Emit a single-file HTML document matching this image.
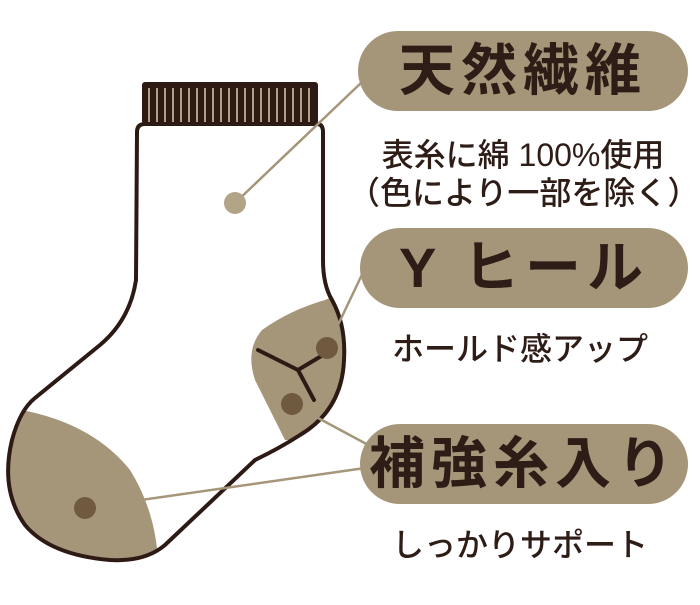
<!DOCTYPE html>
<html><head><meta charset="utf-8"><style>
body{margin:0;background:#fff;width:700px;height:605px;overflow:hidden;position:relative;font-family:"Liberation Sans","Noto Sans CJK JP",sans-serif;color:#2e1c16}
.pill{position:absolute;background:#a5967a;border-radius:42px;height:80px;font-weight:bold;font-size:56px;line-height:80px;text-align:center;letter-spacing:6px;white-space:nowrap}
.t{position:absolute;font-size:32px;font-weight:500;white-space:nowrap;text-align:center}
</style></head><body>
<svg width="700" height="605" style="position:absolute;left:0;top:0">
<defs><clipPath id="s"><path d="M145,124 L317,124 Q323,124 323,132 L323,260 Q323,285 332,300 Q346,325 344,360 Q342,410 300,435 Q280,448 255,460 L165,545 Q145,562 110,560 Q50,555 25,525 Q0,490 12,440 Q20,410 35,398 L100,345 Q130,320 136,280 L137,132 Q137,124 145,124 Z"/></clipPath></defs>
<g clip-path="url(#s)">
<path d="M325,300 Q290,310 262,330 Q245,350 255,380 L285,440 L350,440 L350,290 Z" fill="#a5967a"/>
<path d="M10,408 Q90,420 130,470 Q155,510 158,560 L0,560 Z" fill="#a5967a"/>
</g>
<path d="M145,124 L317,124 Q323,124 323,132 L323,260 Q323,285 332,300 Q346,325 344,360 Q342,410 300,435 Q280,448 255,460 L165,545 Q145,562 110,560 Q50,555 25,525 Q0,490 12,440 Q20,410 35,398 L100,345 Q130,320 136,280 L137,132 Q137,124 145,124 Z" fill="none" stroke="#2e1a14" stroke-width="4"/>
<rect x="142" y="82" width="176" height="42" rx="3" fill="#2e1a14"/>
<g stroke="#b0a184" stroke-width="2">
<path d="M149,88V122M157,88V122M165,88V122M173,88V122M181,88V122M189,88V122M197,88V122M205,88V122M213,88V122M221,88V122M229,88V122M237,88V122M245,88V122M253,88V122M261,88V122M269,88V122M277,88V122M285,88V122M293,88V122M301,88V122M309,88V122"/>
</g>
<path d="M258,350 L298,370 L328,352 M298,370 L314,400" fill="none" stroke="#2e1a14" stroke-width="4" stroke-linecap="round"/>
<g stroke="#a5967a" stroke-width="2.5">
<line x1="235" y1="203" x2="362" y2="82"/>
<line x1="327" y1="348" x2="368" y2="262"/>
<line x1="292" y1="404" x2="372" y2="447"/>
<line x1="85" y1="508" x2="372" y2="467"/>
</g>
<circle cx="235" cy="203" r="11" fill="#b2a486"/>
<circle cx="327" cy="348" r="11" fill="#6f5a40"/>
<circle cx="292" cy="404" r="11" fill="#6f5a40"/>
<circle cx="85" cy="508" r="11" fill="#6f5a40"/>
</svg>
<div class="pill" style="left:358px;top:31px;width:330px">天然繊維</div>
<div class="t" style="left:348px;top:130px;width:350px">表糸に綿 100%使用</div>
<div class="t" style="left:348px;top:168px;width:350px">（色により一部を除く）</div>
<div class="pill" style="left:360px;top:228px;width:328px">Y ヒール</div>
<div class="t" style="left:350px;top:324px;width:340px">ホールド感アップ</div>
<div class="pill" style="left:360px;top:424px;width:328px">補強糸入り</div>
<div class="t" style="left:350px;top:520px;width:340px">しっかりサポート</div>
</body></html>
